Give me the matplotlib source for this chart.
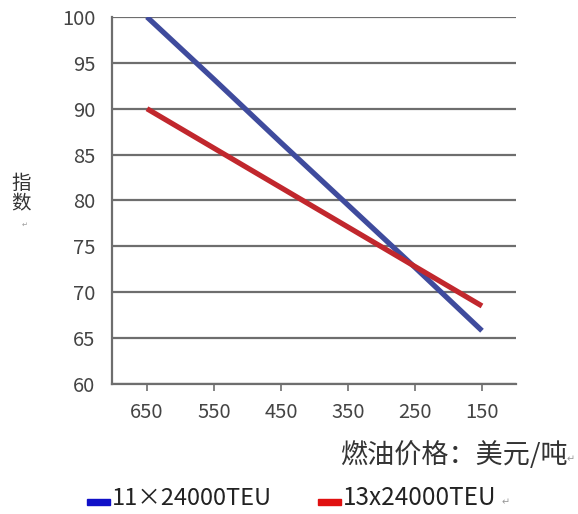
import matplotlib.pyplot as plt
from matplotlib.patches import Rectangle

plt.rcParams['font.family'] = ['Noto Sans CJK SC', 'DejaVu Sans']

# 燃油价格 (美元/吨) 和 指数
price = [650, 550, 450, 350, 250, 150]
blue_vals = [100, 93.2, 86.3, 79.5, 72.7, 65.8]   # 11×24000TEU
red_vals = [90, 85.7, 81.4, 77.1, 72.8, 68.5]     # 13x24000TEU
yticks = [60, 65, 70, 75, 80, 85, 90, 95, 100]
names = ['11×24000TEU', '13x24000TEU']

fig = plt.figure(figsize=(5.78, 5.14), dpi=100)
ax = fig.add_axes([0.194, 0.253, 0.699, 0.714])

ax.plot(price, blue_vals, color='#3f4b9d', lw=3.8, solid_capstyle='butt', zorder=3)
ax.plot(price, red_vals, color='#c1272d', lw=3.8, solid_capstyle='butt', zorder=3)

ax.set_xlim(702, 99)
ax.set_ylim(60, 100)
ax.set_xticks(price)
ax.set_yticks(yticks)
ax.grid(axis='y', color='#6e6e6e', lw=1.6)
ax.set_axisbelow(True)
for s in ['top', 'right']:
    ax.spines[s].set_visible(False)
for s in ['left', 'bottom']:
    ax.spines[s].set_color('#6e6e6e')
    ax.spines[s].set_linewidth(1.6)
ax.tick_params(axis='y', length=0, pad=12, labelsize=14.5, labelcolor='#444444')
ax.tick_params(axis='x', length=5, width=1.2, color='#6e6e6e', pad=8,
               labelsize=14.5, labelcolor='#444444')

# y轴标题 (竖排)
fig.text(0.036, 0.624, '指\n数', fontsize=14, color='#333333',
         ha='center', va='center', linespacing=0.95)
fig.text(0.043, 0.562, '↵', fontsize=5, color='#999999', ha='center', va='center')

# x轴标题
fig.text(0.588, 0.114, '燃油价格：美元/吨', fontsize=19.5, color='#333333',
         ha='left', va='center')
fig.text(0.988, 0.106, '↵', fontsize=7, color='#999999', ha='center', va='center')

# 图例
fig.add_artist(Rectangle((0.151, 0.0175), 0.040, 0.0117, transform=fig.transFigure,
                         color='#1010c8'))
fig.text(0.194, 0.0175, names[0], fontsize=17, color='#222222', ha='left', va='baseline')
fig.add_artist(Rectangle((0.550, 0.0175), 0.040, 0.0117, transform=fig.transFigure,
                         color='#e01010'))
fig.text(0.593, 0.0175, names[1], fontsize=17.5, color='#222222', ha='left', va='baseline')
fig.text(0.875, 0.022, '↵', fontsize=7, color='#999999', ha='center', va='center')

fig.savefig('out.png', dpi=100)
